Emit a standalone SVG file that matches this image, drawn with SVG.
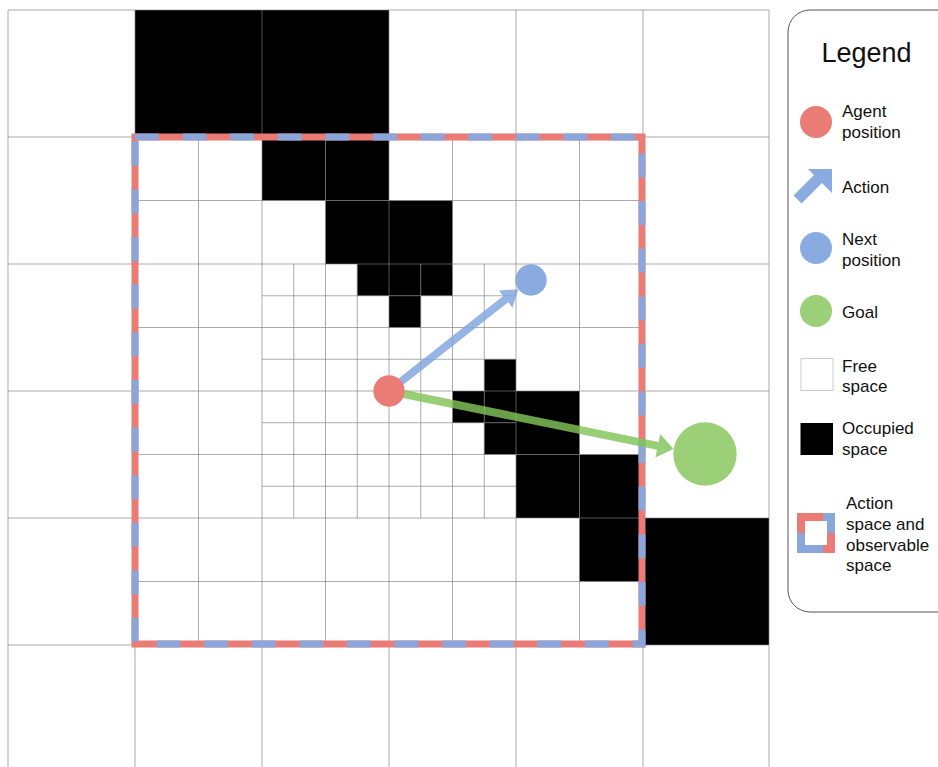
<svg xmlns="http://www.w3.org/2000/svg" width="938" height="767" viewBox="0 0 938 767">
<style>
.grid line{stroke:#7f7f7f;stroke-opacity:0.65;stroke-width:1}
.occ{fill:#000}
.lbl{font-family:"Liberation Sans",Arial,sans-serif;font-size:17px;fill:#111}
.red{fill:#EB7B75}
.blue{fill:#8AABE0}
.green{fill:#9BD079}
</style>
<rect x="0" y="0" width="938" height="767" fill="#fff"/>
<g id="occupied">
<rect class="occ" x="135" y="10" width="127" height="127"/>
<rect class="occ" x="262" y="10" width="127" height="127"/>
<rect class="occ" x="643" y="518" width="126" height="127"/>
<rect class="occ" x="262" y="137" width="63.5" height="63.5"/>
<rect class="occ" x="325.5" y="137" width="63.5" height="63.5"/>
<rect class="occ" x="325.5" y="200.5" width="63.5" height="63.5"/>
<rect class="occ" x="389" y="200.5" width="63.5" height="63.5"/>
<rect class="occ" x="516" y="391" width="63.5" height="63.5"/>
<rect class="occ" x="516" y="454.5" width="63.5" height="63.5"/>
<rect class="occ" x="579.5" y="454.5" width="63.5" height="63.5"/>
<rect class="occ" x="579.5" y="518" width="63.5" height="63.5"/>
<rect class="occ" x="357.25" y="264" width="31.75" height="31.75"/>
<rect class="occ" x="389" y="264" width="31.75" height="31.75"/>
<rect class="occ" x="420.75" y="264" width="31.75" height="31.75"/>
<rect class="occ" x="389" y="295.75" width="31.75" height="31.75"/>
<rect class="occ" x="484.25" y="359.25" width="31.75" height="31.75"/>
<rect class="occ" x="452.5" y="391" width="31.75" height="31.75"/>
<rect class="occ" x="484.25" y="391" width="31.75" height="31.75"/>
<rect class="occ" x="484.25" y="422.75" width="31.75" height="31.75"/>
</g>
<g id="grid" class="grid">
<line x1="8" y1="10" x2="8" y2="767"/>
<line x1="135" y1="10" x2="135" y2="767"/>
<line x1="262" y1="10" x2="262" y2="767"/>
<line x1="389" y1="10" x2="389" y2="767"/>
<line x1="516" y1="10" x2="516" y2="767"/>
<line x1="643" y1="10" x2="643" y2="767"/>
<line x1="769" y1="10" x2="769" y2="767"/>
<line x1="8" y1="10" x2="769" y2="10"/>
<line x1="8" y1="137" x2="769" y2="137"/>
<line x1="8" y1="264" x2="769" y2="264"/>
<line x1="8" y1="391" x2="769" y2="391"/>
<line x1="8" y1="518" x2="769" y2="518"/>
<line x1="8" y1="645" x2="769" y2="645"/>
<line x1="198.5" y1="137" x2="198.5" y2="645"/>
<line x1="325.5" y1="137" x2="325.5" y2="645"/>
<line x1="452.5" y1="137" x2="452.5" y2="645"/>
<line x1="579.5" y1="137" x2="579.5" y2="645"/>
<line x1="135" y1="200.5" x2="643" y2="200.5"/>
<line x1="135" y1="327.5" x2="643" y2="327.5"/>
<line x1="135" y1="454.5" x2="643" y2="454.5"/>
<line x1="135" y1="581.5" x2="643" y2="581.5"/>
<line x1="293.75" y1="264" x2="293.75" y2="518"/>
<line x1="357.25" y1="264" x2="357.25" y2="518"/>
<line x1="420.75" y1="264" x2="420.75" y2="518"/>
<line x1="484.25" y1="264" x2="484.25" y2="518"/>
<line x1="262" y1="295.75" x2="516" y2="295.75"/>
<line x1="262" y1="359.25" x2="516" y2="359.25"/>
<line x1="262" y1="422.75" x2="516" y2="422.75"/>
<line x1="262" y1="486.25" x2="516" y2="486.25"/>
</g>
<g id="action-space">
<rect x="135" y="137" width="507" height="507" fill="none" stroke="#EA7B75" stroke-width="7"/>
<rect x="135" y="137" width="507" height="507" fill="none" stroke="#8AA6DA" stroke-width="7" stroke-dasharray="23.8 23.8"/>
</g>
<g id="connectors" opacity="0.82">
<polygon fill="#7FA6E0" points="386.5,387.9 503.2,296.1 498.9,290.6 518.3,289.3 512.5,307.8 508.2,302.3 391.5,394.1"/>
<polygon fill="#82C458" points="389.8,387.1 658.6,441.9 660.2,434 673.5,449 655.4,457.6 657,449.7 388.2,394.9"/>
</g>
<g id="agent"><circle class="red" cx="389" cy="391" r="15.7"/></g>
<g id="next-position"><circle class="blue" cx="531" cy="280" r="15.7"/></g>
<g id="goal"><circle class="green" cx="705" cy="454" r="31.7"/></g>
<g id="legend">
<rect x="788" y="10" width="175" height="602" rx="22" ry="22" fill="#fff" stroke="#555" stroke-width="1"/>
<text x="866.5" y="62" text-anchor="middle" font-family="Liberation Sans, Arial, sans-serif" font-size="27" fill="#111">Legend</text>
<circle class="red" cx="816" cy="122" r="16"/>
<text class="lbl" x="842" y="117">Agent</text>
<text class="lbl" x="842" y="138">position</text>
<polygon class="blue" points="808,169 832,169 832,193 822,183 801.5,203.5 793.5,195.5 814,175"/>
<text class="lbl" x="842" y="193">Action</text>
<circle class="blue" cx="816" cy="248" r="16"/>
<text class="lbl" x="842" y="245">Next</text>
<text class="lbl" x="842" y="266">position</text>
<circle class="green" cx="816" cy="311" r="16"/>
<text class="lbl" x="842" y="318">Goal</text>
<rect x="801" y="358.5" width="32" height="32" fill="#fff" stroke="#ccc" stroke-width="1"/>
<text class="lbl" x="842" y="372">Free</text>
<text class="lbl" x="842" y="392">space</text>
<rect x="800.5" y="423" width="32.5" height="32" fill="#000"/>
<text class="lbl" x="842" y="434">Occupied</text>
<text class="lbl" x="842" y="455">space</text>
<g>
<rect x="797" y="513" width="26" height="8" fill="#EA7B75"/>
<rect x="823" y="513" width="12" height="8" fill="#8AA6DA"/>
<rect x="827" y="521" width="8" height="12" fill="#8AA6DA"/>
<rect x="827" y="533" width="8" height="20" fill="#EA7B75"/>
<rect x="823" y="545" width="4" height="8" fill="#EA7B75"/>
<rect x="797" y="545" width="26" height="8" fill="#8AA6DA"/>
<rect x="797" y="533" width="8" height="12" fill="#8AA6DA"/>
<rect x="797" y="521" width="8" height="12" fill="#EA7B75"/>
</g>
<text class="lbl" x="846" y="509">Action</text>
<text class="lbl" x="846" y="530">space and</text>
<text class="lbl" x="846" y="551">observable</text>
<text class="lbl" x="846" y="571">space</text>
</g>
</svg>
